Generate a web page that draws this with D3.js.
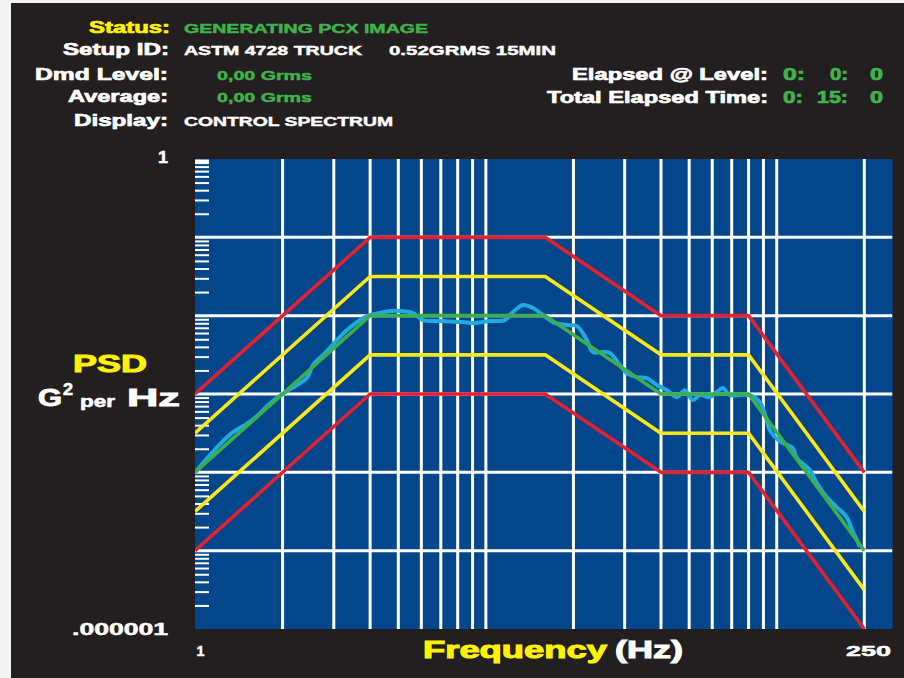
<!DOCTYPE html>
<html><head><meta charset="utf-8">
<script src="https://cdn.jsdelivr.net/npm/d3@7"></script>
<style>html,body{margin:0;padding:0;background:#fff;}svg{display:block;}</style>
</head><body>
<script>
// ---------- data ----------
const profileFreq = [1, 4, 16, 40, 80, 200];
const demandPSD   = [1e-4, 1e-2, 1e-2, 1e-3, 1e-3, 1e-5];
const upperAbort  = [1e-3, 1e-1, 1e-1, 1e-2, 1e-2, 1e-4];
const lowerAbort  = [1e-5, 1e-3, 1e-3, 1e-4, 1e-4, 1e-6];
const upperAlarm  = [3.16e-4, 3.16e-2, 3.16e-2, 3.16e-3, 3.16e-3, 3.16e-5];
const lowerAlarm  = [3.16e-5, 3.16e-3, 3.16e-3, 3.16e-4, 3.16e-4, 3.16e-6];

const controlFreq = [1.00,1.065,1.126,1.219,1.351,1.485,1.634,1.782,1.929,2.072,2.241,2.426,2.544,2.797,3.076,3.330,3.603,3.900,
  4.323,4.679,5.064,5.613,6.074,7.115,8.337,9.023,10.32,11.62,12.38,13.40,14.51,15.70,16.99,18.98,20.54,22.24,23.32,25.24,26.68,
  28.87,30.51,33.03,35.75,38.69,41.88,45.33,48.29,51.44,54.37,58.85,62.21,65.23,68.96,74.64,80.78,87.43,92.40,94.61,102.4,113.5,
  117.2,129.9,137.3,148.5,160.8,174.0,182.5,188.3,192.9];
const controlPSD = [1.0e-4,1.31e-4,1.66e-4,2.29e-4,3.26e-4,4.01e-4,5.22e-4,7.21e-4,9.12e-4,1.09e-3,1.30e-3,1.60e-3,2.34e-3,3.33e-3,
  4.88e-3,6.55e-3,8.28e-3,9.89e-3,1.08e-2,1.15e-2,1.15e-2,1.08e-2,8.79e-3,8.53e-3,8.28e-3,8.05e-3,8.53e-3,8.79e-3,1.11e-2,1.37e-2,
  1.25e-2,1.02e-2,8.28e-3,7.59e-3,7.37e-3,4.88e-3,3.43e-3,3.43e-3,3.33e-3,2.34e-3,1.85e-3,1.64e-3,1.60e-3,1.30e-3,1.12e-3,9.12e-4,
  1.12e-3,8.36e-4,9.68e-4,9.12e-4,1.06e-3,1.19e-3,9.68e-4,9.68e-4,9.68e-4,7.88e-4,4.65e-4,3.46e-4,2.50e-4,2.04e-4,1.52e-4,1.07e-4,
  7.28e-5,4.82e-5,3.60e-5,2.68e-5,1.75e-5,1.40e-5,1.12e-5];

const gridFreqs = [2,3,4,5,6,7,8,9,10,20,30,40,50,60,70,80,90,100,200];
const gridPSD = [1e-1,1e-2,1e-3,1e-4,1e-5];
const minorMantissas = [2,3,4,5,6,7,8,9];
const minorDecades = [1e-6,1e-5,1e-4,1e-3,1e-2,1e-1];
const xTickValues = [1, 250], xTickLabels = ["1", "250"];
const yTickValues = [1, 1e-6], yTickLabels = ["1", ".000001"];

const headerLabels = ["Status:", "Setup ID:", "Dmd Level:", "Average:", "Display:"];
const headerValues = ["GENERATING PCX IMAGE", "ASTM 4728 TRUCK", "0,00 Grms", "0,00 Grms", "CONTROL SPECTRUM"];
const setupExtra = "0.52GRMS 15MIN";
const timerLabels = ["Elapsed @ Level:", "Total Elapsed Time:"];
const timerValues = [["0:", "0:", "0"], ["0:", "15:", "0"]];

// ---------- colours ----------
const C = {bg:"#231f20", plot:"#03468b", grid:"#ffffff", red:"#e3222f", yellow:"#fbe915",
  green:"#3eae4a", cyan:"#1eaae2", tgreen:"#3fb549", tyellow:"#fff200", white:"#ffffff"};
const FONT = "'Liberation Sans', Arial, Helvetica, sans-serif";

const W = 904, H = 678;
const svg = d3.select("body").append("svg").attr("width", W).attr("height", H)
  .attr("font-family", FONT).attr("font-weight", "bold");
svg.append("rect").attr("x", 0).attr("y", 0).attr("width", W).attr("height", H).attr("fill", "#f4f4f4");
svg.append("rect").attr("x", 11).attr("y", 3).attr("width", W - 11).attr("height", H - 3).attr("fill", C.bg);

const x = d3.scaleLog().domain([1, 250]).range([195, 892.5]);
const y = d3.scaleLog().domain([1e-6, 1]).range([629, 159]);

svg.append("defs").append("clipPath").attr("id", "clip").append("rect")
  .attr("x", x(1)).attr("y", y(1)).attr("width", x(250) - x(1)).attr("height", y(1e-6) - y(1));

svg.append("rect").attr("x", x(1)).attr("y", y(1)).attr("width", x(250) - x(1))
  .attr("height", y(1e-6) - y(1)).attr("fill", C.plot);

// grid
const grid = svg.append("g").attr("clip-path", "url(#clip)");
grid.selectAll(".vg").data(gridFreqs).join("line")
  .attr("x1", d => x(d)).attr("x2", d => x(d)).attr("y1", y(1)).attr("y2", y(1e-6))
  .attr("stroke", C.grid).attr("stroke-width", 3);
grid.selectAll(".hg").data(gridPSD).join("line")
  .attr("x1", x(1)).attr("x2", x(250)).attr("y1", d => y(d)).attr("y2", d => y(d))
  .attr("stroke", C.grid).attr("stroke-width", 3);

// minor ticks on the left inside the plot
const minorVals = [];
minorDecades.forEach(dec => minorMantissas.forEach(m => minorVals.push(m * dec)));
const minorAxis = svg.append("g").attr("transform", `translate(${x(1)},0)`)
  .call(d3.axisRight(y).tickValues(minorVals).tickSize(14).tickFormat(""));
minorAxis.select(".domain").remove();
minorAxis.selectAll("line").attr("stroke", C.grid).attr("stroke-width", 2);
const topTick = svg.append("g").attr("transform", `translate(${x(1)},0)`)
  .call(d3.axisRight(y).tickValues([1]).tickSize(14).tickFormat(""));
topTick.select(".domain").remove();
topTick.selectAll("line").attr("stroke", C.grid).attr("stroke-width", 4).attr("transform", "translate(0,2)");

// lines
const lineGen = d3.line().x(d => x(d[0])).y(d => y(d[1]));
const lines = svg.append("g").attr("clip-path", "url(#clip)").attr("fill", "none")
  .attr("stroke-linejoin", "round").attr("stroke-linecap", "butt");
function addLine(fx, vals, color, w) {
  lines.append("path").datum(fx.map((f, i) => [f, vals[i]])).attr("d", lineGen)
    .attr("stroke", color).attr("stroke-width", w);
}
addLine(profileFreq, upperAbort, C.red, 3.6);
addLine(profileFreq, lowerAbort, C.red, 3.6);
addLine(profileFreq, upperAlarm, C.yellow, 3.6);
addLine(profileFreq, lowerAlarm, C.yellow, 3.6);
lines.append("path").datum(controlFreq.map((f, i) => [f, controlPSD[i]]))
  .attr("d", d3.line().x(d => x(d[0])).y(d => y(d[1])).curve(d3.curveCatmullRom))
  .attr("stroke", C.cyan).attr("stroke-width", 4);
addLine(profileFreq, demandPSD, C.green, 3.6);

// text helper
function txt(str, x0, yb, size, width, fill, sw) {
  return svg.append("text").attr("x", x0).attr("y", yb).attr("font-size", size)
    .attr("textLength", width).attr("lengthAdjust", "spacingAndGlyphs")
    .attr("fill", fill).attr("stroke", fill).attr("stroke-width", sw == null ? 0.7 : sw)
    .text(str);
}

// header
const hlX = [89, 63, 35, 68, 74], hlW = [81, 106, 133, 100, 94];
const hY = [33, 55, 80, 102, 126];
headerLabels.forEach((s, i) => txt(s, hlX[i], hY[i], 16.5, hlW[i], i === 0 ? C.tyellow : C.white));
const hvX = [184, 184, 217, 217, 184], hvW = [244, 178, 95, 95, 209];
const hvC = [C.tgreen, C.white, C.tgreen, C.tgreen, C.white];
headerValues.forEach((s, i) => txt(s, hvX[i], hY[i] - 0.5, 13.5, hvW[i], hvC[i], 0.45));
txt(setupExtra, 389, 54.5, 13.5, 167, C.white, 0.45);

const tlX = [572, 547], tlW = [196, 221], tY = [80, 103];
timerLabels.forEach((s, i) => txt(s, tlX[i], tY[i], 16.5, tlW[i], C.white));
const tvX = [[783, 830, 870], [783, 817, 870]], tvW = [[22, 18, 13], [20, 31, 13]];
timerValues.forEach((row, i) => row.forEach((s, j) => txt(s, tvX[i][j], tY[i], 16.5, tvW[i][j], C.tgreen)));

// axes tick labels
const yAxis = svg.append("g").attr("transform", `translate(${x(1)},0)`)
  .call(d3.axisLeft(y).tickValues(yTickValues).tickFormat((d, i) => yTickLabels[i]).tickSize(0).tickPadding(27));
yAxis.select(".domain").remove();
yAxis.selectAll("text").attr("fill", C.white).attr("stroke", C.white).attr("stroke-width", 0.5)
  .attr("font-family", FONT).attr("font-weight", "bold").attr("font-size", 16)
  .attr("lengthAdjust", "spacingAndGlyphs").attr("textLength", (d, i) => i === 0 ? 10 : 96)
  .attr("dy", (d, i) => i === 0 ? "0.2em" : "0.35em");

const xAxis = svg.append("g").attr("transform", `translate(0,${y(1e-6)})`)
  .call(d3.axisBottom(x).tickValues(xTickValues).tickFormat((d, i) => xTickLabels[i]).tickSize(0).tickPadding(16));
xAxis.select(".domain").remove();
xAxis.selectAll("text").attr("fill", C.white).attr("stroke", C.white).attr("stroke-width", 0.5)
  .attr("font-family", FONT).attr("font-weight", "bold").attr("font-size", 15)
  .attr("lengthAdjust", "spacingAndGlyphs").attr("textLength", (d, i) => i === 0 ? 8 : 45)
  .attr("text-anchor", (d, i) => i === 0 ? "start" : "end")
  .attr("x", (d, i) => i === 0 ? 1 : -2);

// axis titles
txt("Frequency", 423, 658, 23, 184, C.tyellow, 1);
txt("(Hz)", 615, 658, 23, 68, C.white, 1);
txt("PSD", 73, 372, 24, 74, C.tyellow, 1);
txt("G", 38, 406, 24, 24, C.white, 0.9);
txt("2", 63, 395, 16, 10, C.white, 0.6);
txt("per", 80, 407, 16, 35, C.white, 0.6);
txt("Hz", 127, 406, 24, 53, C.white, 0.9);
</script>
</body></html>
